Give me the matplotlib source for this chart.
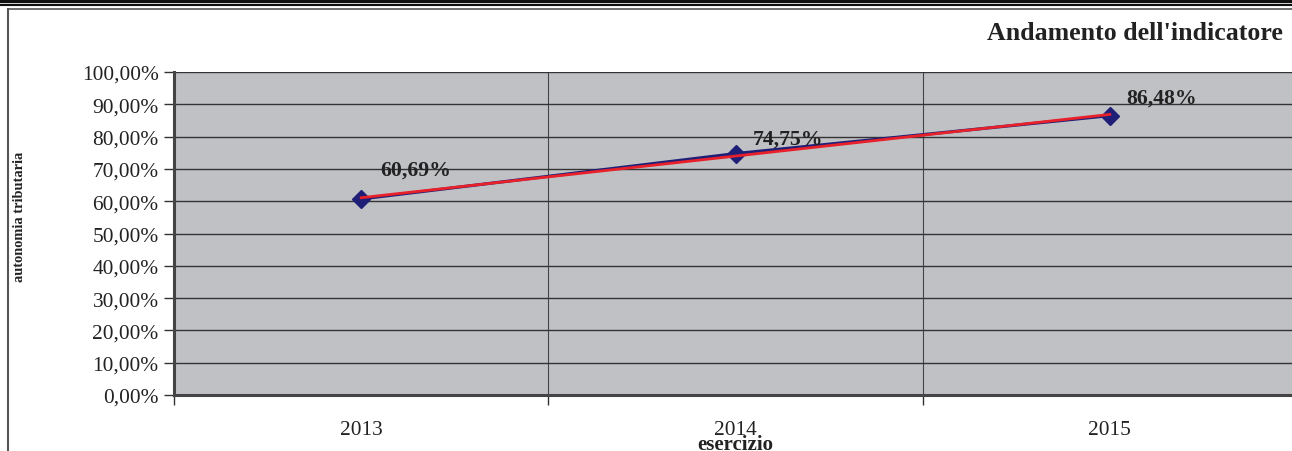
import numpy as np
import matplotlib.pyplot as plt
from matplotlib.lines import Line2D

plt.rcParams['font.family'] = ['Liberation Serif', 'DejaVu Serif']

anni = ['2013', '2014', '2015']
valori = [60.69, 74.75, 86.48]
etichette = ['60,69%', '74,75%', '86,48%']

# spostamento delle etichette dati (pixel) rispetto al punto
spost_etichette = [(55, 24), (52, 10), (52, 13)]

x = np.arange(len(anni))
y = np.array(valori) / 100
# linea di tendenza lineare (rossa)
coef = np.polyfit(x, y, 1)
trend = np.polyval(coef, x)

W, H = 1292, 452
fig = plt.figure(figsize=(W / 100, H / 100), dpi=100)
ax = fig.add_axes([174 / W, (H - 396) / H, (1297 - 174) / W, 323 / H])

ax.set_facecolor('#c0c1c5')
ax.plot(x, y, color='#1f1f78', lw=2.2, marker='D', ms=9, mfc='#1f1f78', mec='#1f1f78', zorder=3)
ax.plot(x, trend, color='#e8202a', lw=2, zorder=4)

for xi, yi, lab, off in zip(x, y, etichette, spost_etichette):
    ax.annotate(lab, (xi, yi), xytext=off, textcoords='offset pixels',
                ha='center', va='baseline', fontsize=15.7, fontweight='bold', color='#222222', zorder=5)

ax.set_xlim(-0.5, 2.5)
ax.set_ylim(0, 1)
ax.set_yticks(np.arange(0, 1.01, 0.1))
ax.set_yticklabels(['%d,00%%' % (10 * i) for i in range(11)], fontsize=15.4, color='#222222')
ax.set_xticks(x)
ax.set_xticklabels(anni, fontsize=15.4, color='#222222')
ax.set_xticks([-0.5, 0.5, 1.5], minor=True)
ax.tick_params(axis='x', which='major', length=0, pad=18.3)
ax.tick_params(axis='x', which='minor', length=7, width=1, color='#333333', direction='out')
ax.tick_params(axis='y', length=7, width=1, color='#333333', pad=4)
ax.grid(axis='y', color='#333333', lw=1)
ax.grid(axis='x', which='minor', color='#444444', lw=0.8)
ax.set_axisbelow(True)
for s in ['top', 'right']:
    ax.spines[s].set_visible(False)
for s in ['left', 'bottom']:
    ax.spines[s].set_color('#444444')
    ax.spines[s].set_linewidth(2.2)

ax.set_xlabel('esercizio', fontsize=15, fontweight='bold', color='#222222', labelpad=-4)
fig.text(20 / W, 1 - 217 / H, 'autonomia tributaria', rotation=90, ha='center', va='center',
         fontsize=10.4, fontweight='bold', color='#222222')
fig.text(1283 / W, 1 - 33 / H, "Andamento dell'indicatore", ha='right', va='center',
         fontsize=18.6, fontweight='bold', color='#222222')

# cornice e doppia riga in alto
fig.add_artist(Line2D([0, 1], [1 - 1.5 / H, 1 - 1.5 / H], color='#111111', lw=2.4, transform=fig.transFigure))
fig.add_artist(Line2D([0, 1], [1 - 5.5 / H, 1 - 5.5 / H], color='#111111', lw=1.5, transform=fig.transFigure))
fig.add_artist(Line2D([7.5 / W, 1], [1 - 9.5 / H, 1 - 9.5 / H], color='#555555', lw=1.2, transform=fig.transFigure))
fig.add_artist(Line2D([7.5 / W, 7.5 / W], [0, 1 - 9.5 / H], color='#555555', lw=1.5, transform=fig.transFigure))

fig.savefig('out.png', dpi=100)
